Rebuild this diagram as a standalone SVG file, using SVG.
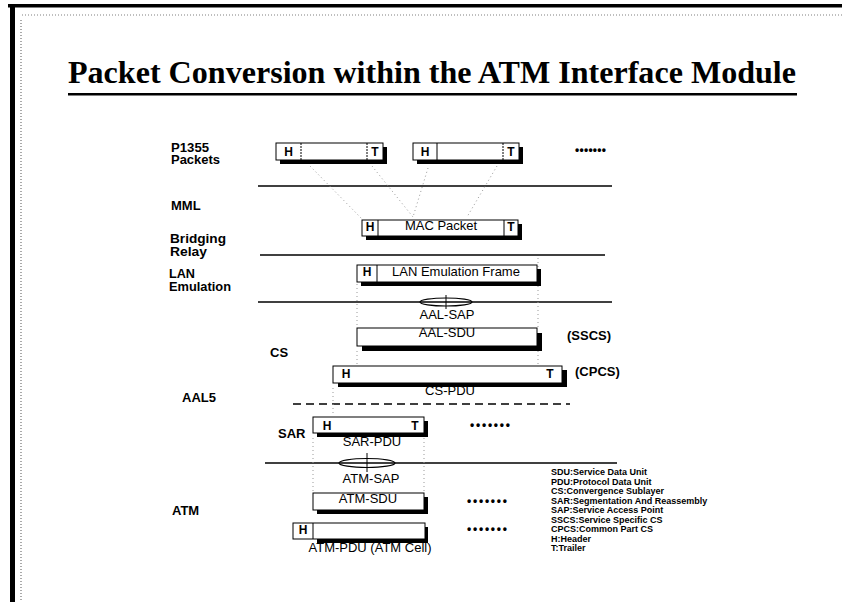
<svg xmlns="http://www.w3.org/2000/svg" width="842" height="602" viewBox="0 0 842 602">
<defs>
<style>
.lbl{font-family:"Liberation Sans",Arial,sans-serif;font-weight:bold;font-size:13px;fill:#000}
.lb2{font-family:"Liberation Sans",Arial,sans-serif;font-weight:bold;font-size:12px;fill:#000}
.txt{font-family:"Liberation Sans",Arial,sans-serif;font-size:13px;fill:#000}
.hd{font-family:"Liberation Sans",Arial,sans-serif;font-weight:bold;font-size:12px;fill:#000;text-anchor:middle}
.leg{font-family:"Liberation Sans",Arial,sans-serif;font-weight:bold;font-size:9px;fill:#000}
.dots{font-family:"Liberation Sans",Arial,sans-serif;font-weight:bold;font-size:12px;fill:#000}
.mid{text-anchor:middle}
.box{fill:#fff;stroke:#000;stroke-width:1}
.shd{fill:#000}
.dv{stroke:#000;stroke-width:1}
.dvd{stroke:#000;stroke-width:1;stroke-dasharray:2 1}
.layer{stroke:#000;stroke-width:1.5;fill:none}
.guide{stroke:#999;stroke-width:1;stroke-dasharray:1 3;fill:none}
.sap{fill:none;stroke:#000;stroke-width:1.2}
</style>
</defs>
<rect width="842" height="602" fill="#fff"/>
<!-- page frame -->
<rect x="8" y="4" width="834" height="3.5" fill="#000"/>
<rect x="10" y="4" width="5" height="598" fill="#000"/>
<line x1="22" y1="15" x2="842" y2="15" stroke="#aaa" stroke-width="1.5" stroke-dasharray="1 2"/>
<line x1="21" y1="20" x2="21" y2="602" stroke="#aaa" stroke-width="2" stroke-dasharray="1 2"/>

<!-- title -->
<g id="title">
<text x="68" y="83" font-family="'Liberation Serif','Times New Roman',serif" font-weight="bold" font-size="32" textLength="728" lengthAdjust="spacingAndGlyphs">Packet Conversion within the ATM Interface Module</text>
<rect x="68" y="93" width="729" height="2.5" fill="#000"/>
</g>

<!-- layer labels -->
<g id="labels">
<text class="lb2" x="171" y="151.5" textLength="38" lengthAdjust="spacingAndGlyphs">P1355</text>
<text class="lb2" x="171" y="164" textLength="49" lengthAdjust="spacingAndGlyphs">Packets</text>
<text class="lbl" x="171" y="210">MML</text>
<text class="lb2" x="170" y="243" textLength="56" lengthAdjust="spacingAndGlyphs">Bridging</text>
<text class="lb2" x="170" y="255.5" textLength="37" lengthAdjust="spacingAndGlyphs">Relay</text>
<text class="lb2" x="169" y="278" textLength="26" lengthAdjust="spacingAndGlyphs">LAN</text>
<text class="lb2" x="169" y="290.5" textLength="62" lengthAdjust="spacingAndGlyphs">Emulation</text>
<text class="lbl" x="270" y="357">CS</text>
<text class="lbl" x="182" y="402">AAL5</text>
<text class="lbl" x="278" y="438">SAR</text>
<text class="lbl" x="172" y="515">ATM</text>
<text class="lbl" x="567" y="340">(SSCS)</text>
<text class="lbl" x="575" y="376">(CPCS)</text>
</g>

<!-- layer boundaries -->
<g id="layers">
<line class="layer" x1="258" y1="186" x2="612" y2="186"/>
<line class="layer" x1="260" y1="255" x2="605" y2="255"/>
<line class="layer" x1="258" y1="302" x2="612" y2="302" stroke-width="2"/>
<line class="layer" x1="293" y1="404" x2="570" y2="404" stroke-dasharray="8 5"/>
<line class="layer" x1="265" y1="463" x2="617" y2="463" stroke-width="2"/>
</g>

<!-- connectors (guide lines) -->
<g id="connectors">
<line class="guide" x1="310" y1="166" x2="362" y2="219"/>
<line class="guide" x1="372" y1="166" x2="413" y2="217"/>
<line class="guide" x1="428" y1="168" x2="413" y2="217"/>
<line class="guide" x1="497" y1="166" x2="467" y2="217"/>
<line class="guide" x1="357" y1="284" x2="357" y2="327"/>
<line class="guide" x1="538" y1="258" x2="538" y2="327"/>
<line class="guide" x1="357" y1="351" x2="357" y2="365"/>
<line class="guide" x1="538" y1="351" x2="538" y2="365"/>
<line class="guide" x1="333" y1="388" x2="333" y2="416"/>
<line class="guide" x1="313" y1="438" x2="313" y2="492"/>
<line class="guide" x1="424" y1="438" x2="424" y2="492"/>
</g>

<!-- P1355 packets -->
<g id="p1355-packet-1">
<rect class="shd" x="280" y="147" width="107" height="17"/>
<rect class="box" x="276" y="143" width="107" height="17"/>
<line class="dvd" x1="301" y1="143" x2="301" y2="160"/>
<line class="dvd" x1="367" y1="143" x2="367" y2="160"/>
<text class="hd" x="288.5" y="155.5">H</text>
<text class="hd" x="375" y="155.5">T</text>
</g>
<g id="p1355-packet-2">
<rect class="shd" x="417" y="147" width="106" height="17"/>
<rect class="box" x="413" y="143" width="106" height="17"/>
<line class="dv" x1="437" y1="143" x2="437" y2="160"/>
<line class="dvd" x1="503" y1="143" x2="503" y2="160"/>
<text class="hd" x="425" y="155.5">H</text>
<text class="hd" x="511" y="155.5">T</text>
</g>
<text id="p1355-dots" class="dots" x="575" y="154" textLength="31" lengthAdjust="spacing">•••••••</text>

<!-- MAC packet -->
<g id="mac-packet">
<rect class="shd" x="366" y="224" width="156" height="16"/>
<rect class="box" x="362" y="220" width="156" height="16"/>
<line class="dv" x1="378" y1="220" x2="378" y2="236"/>
<line class="dv" x1="504" y1="220" x2="504" y2="236"/>
<text class="hd" x="370" y="231">H</text>
<text class="hd" x="511" y="231">T</text>
<text class="txt mid" x="441" y="230">MAC Packet</text>
</g>

<!-- LAN emulation frame -->
<g id="lan-frame">
<rect class="shd" x="361" y="269" width="180" height="17"/>
<rect class="box" x="357" y="265" width="180" height="17"/>
<line class="dv" x1="377" y1="265" x2="377" y2="282"/>
<text class="hd" x="367" y="276">H</text>
<text class="txt mid" x="456" y="276">LAN Emulation Frame</text>
</g>

<!-- AAL-SAP -->
<g id="aal-sap">
<ellipse class="sap" cx="446" cy="302" rx="26" ry="4"/>
<line class="dv" x1="446" y1="295" x2="446" y2="309"/>
<text class="txt mid" x="447" y="319" font-size="12">AAL-SAP</text>
</g>

<!-- AAL-SDU -->
<g id="aal-sdu">
<rect class="shd" x="362" y="333" width="180" height="18"/>
<rect class="box" x="357" y="328" width="180" height="18"/>
<text class="txt mid" x="447" y="336.5">AAL-SDU</text>
</g>

<!-- CS-PDU -->
<g id="cs-pdu">
<text class="txt mid" x="450" y="394.5">CS-PDU</text>
<rect class="shd" x="338" y="370" width="229" height="17"/>
<rect class="box" x="333" y="366" width="229" height="17"/>
<text class="hd" x="346" y="378">H</text>
<text class="hd" x="550" y="378">T</text>
</g>

<!-- SAR-PDU -->
<g id="sar-pdu">
<text class="txt mid" x="372" y="445.5">SAR-PDU</text>
<rect class="shd" x="317" y="421" width="111" height="16"/>
<rect class="box" x="313" y="417" width="111" height="16"/>
<text class="hd" x="327" y="429.5">H</text>
<text class="hd" x="415" y="429.5">T</text>
</g>
<text id="sar-dots" class="dots" x="470" y="429" textLength="40" lengthAdjust="spacing">•••••••</text>

<!-- ATM-SAP -->
<g id="atm-sap">
<ellipse class="sap" cx="367" cy="463" rx="28" ry="4.5"/>
<line class="dv" x1="367" y1="453" x2="367" y2="472"/>
<text class="txt mid" x="371" y="483">ATM-SAP</text>
</g>

<!-- ATM-SDU -->
<g id="atm-sdu">
<rect class="shd" x="317" y="497" width="111" height="17"/>
<rect class="box" x="313" y="493" width="111" height="17"/>
<text class="txt mid" x="368" y="503">ATM-SDU</text>
</g>
<text id="atm-sdu-dots" class="dots" x="467" y="505" textLength="40" lengthAdjust="spacing">•••••••</text>

<!-- ATM-PDU -->
<g id="atm-pdu">
<rect class="shd" x="317" y="527" width="111" height="16"/>
<rect class="box" x="293" y="523" width="132" height="16"/>
<line class="dv" x1="313" y1="523" x2="313" y2="539"/>
<text class="hd" x="303" y="534">H</text>
<text class="txt mid" x="370" y="552">ATM-PDU (ATM Cell)</text>
</g>
<text id="atm-pdu-dots" class="dots" x="467" y="533" textLength="40" lengthAdjust="spacing">•••••••</text>

<!-- legend -->
<g id="legend">
<text class="leg" x="551" y="475">SDU:Service Data Unit</text>
<text class="leg" x="551" y="484.5">PDU:Protocol Data Unit</text>
<text class="leg" x="551" y="494">CS:Convergence Sublayer</text>
<text class="leg" x="551" y="503.5">SAR:Segmentation And Reassembly</text>
<text class="leg" x="551" y="513">SAP:Service Access Point</text>
<text class="leg" x="551" y="522.5">SSCS:Service Specific CS</text>
<text class="leg" x="551" y="532">CPCS:Common Part CS</text>
<text class="leg" x="551" y="541.5">H:Header</text>
<text class="leg" x="551" y="551">T:Trailer</text>
</g>
</svg>
